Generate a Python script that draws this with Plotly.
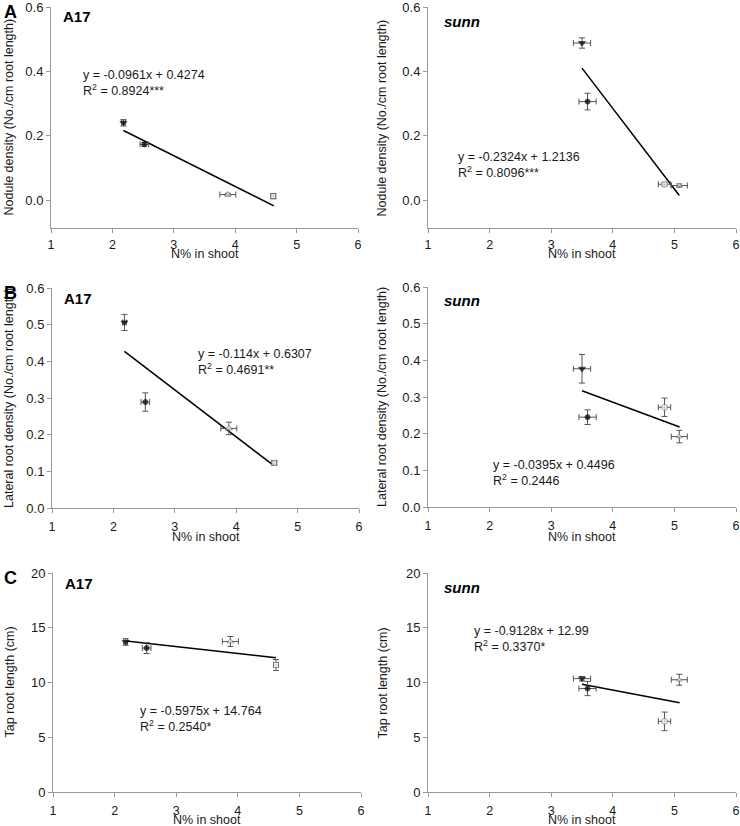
import plotly.graph_objects as go

W, H = 740, 826

# ---- data ----
n_a17 = [2.18, 2.52, 3.88, 4.62]
n_a17_err = [0.03, 0.07, 0.13, 0.04]
n_sunn = [3.50, 3.59, 4.84, 5.08]
n_sunn_err = [0.14, 0.14, 0.10, 0.13]

nodule_a17 = [0.240, 0.173, 0.017, 0.012]
nodule_a17_err = [0.010, 0.006, 0.004, 0.008]
nodule_sunn = [0.488, 0.306, 0.049, 0.045]
nodule_sunn_err = [0.016, 0.026, 0.005, 0.005]

lateral_a17 = [0.506, 0.289, 0.217, 0.123]
lateral_a17_err = [0.022, 0.025, 0.017, 0.005]
lateral_sunn = [0.377, 0.245, 0.272, 0.192]
lateral_sunn_err = [0.039, 0.020, 0.025, 0.017]

tap_a17 = [13.70, 13.15, 13.75, 11.60]
tap_a17_err = [0.30, 0.50, 0.45, 0.50]
tap_sunn = [10.35, 9.45, 6.45, 10.25]
tap_sunn_err = [0.20, 0.65, 0.85, 0.50]

# trend line end points (x, y)
trend_nod_a17 = ([2.18, 4.63], [0.216, -0.018])
trend_nod_sunn = ([3.50, 5.08], [0.410, 0.014])
trend_lat_a17 = ([2.18, 4.61], [0.427, 0.116])
trend_lat_sunn = ([3.50, 5.085], [0.317, 0.218])
trend_tap_a17 = ([2.19, 4.62], [13.78, 12.26])
trend_tap_sunn = ([3.50, 5.085], [9.83, 8.16])

eq_texts = [
    ("y = -0.0961x + 0.4274", "R<sup>2</sup> = 0.8924***"),
    ("y = -0.2324x + 1.2136", "R<sup>2</sup> = 0.8096***"),
    ("y = -0.114x + 0.6307", "R<sup>2</sup> = 0.4691**"),
    ("y = -0.0395x + 0.4496", "R<sup>2</sup> = 0.2446"),
    ("y = -0.5975x + 14.764", "R<sup>2</sup> = 0.2540*"),
    ("y = -0.9128x + 12.99", "R<sup>2</sup> = 0.3370*"),
]

x_ticks = [1, 2, 3, 4, 5, 6]
y_titles = ["Nodule density (No./cm root length)",
            "Lateral root density (No./cm root length)",
            "Tap root length (cm)"]
x_title = "N% in shoot"

FONT = "Liberation Sans, Arial, sans-serif"
AX_COL = "#9a9a9a"
ERR_COL = "#555555"

sym_a17 = ["triangle-down", "circle", "triangle-up", "square"]
sym_sunn = ["triangle-down", "circle", "circle", "triangle-up"]
fill = ["black", "black", "white", "white"]
edge = ["black", "black", "#777777", "#777777"]
msize = [6, 5, 6, 5]

# panel pixel boxes: (x_left, x_right, y_top, y_bottom)
boxes = [
    (51, 358, 7, 228), (428, 736, 7, 228),
    (52, 359, 288, 508), (428, 736, 287, 507),
    (53, 361, 573, 792), (428, 736, 573, 792),
]
yranges = [[-0.087, 0.6], [-0.087, 0.6], [0, 0.6], [0, 0.6], [0, 20], [0, 20]]
ytickvals = [[0, 0.2, 0.4, 0.6]] * 2 + [[0, 0.1, 0.2, 0.3, 0.4, 0.5, 0.6]] * 2 + [[0, 5, 10, 15, 20]] * 2
ytickfmt = [".1f"] * 4 + ["d"] * 2
xlab_standoff = [1, 1, 3, 3, 3, 3]
xtitle_y = [254, 254, 537, 537, 820, 820]

panels = [
    (n_a17, n_a17_err, nodule_a17, nodule_a17_err, sym_a17, trend_nod_a17),
    (n_sunn, n_sunn_err, nodule_sunn, nodule_sunn_err, sym_sunn, trend_nod_sunn),
    (n_a17, n_a17_err, lateral_a17, lateral_a17_err, sym_a17, trend_lat_a17),
    (n_sunn, n_sunn_err, lateral_sunn, lateral_sunn_err, sym_sunn, trend_lat_sunn),
    (n_a17, n_a17_err, tap_a17, tap_a17_err, sym_a17, trend_tap_a17),
    (n_sunn, n_sunn_err, tap_sunn, tap_sunn_err, sym_sunn, trend_tap_sunn),
]

# equation text anchor (left, first-line center y) in pixels
eq_pos = [(81, 73), (456, 155), (196, 352), (491, 463), (138, 709), (472, 629)]

fig = go.Figure()
layout = dict(
    template="none",
    width=W, height=H, margin=dict(l=0, r=0, t=0, b=0, autoexpand=False),
    paper_bgcolor="white", plot_bgcolor="white", showlegend=False,
    font=dict(family=FONT, size=13, color="#1a1a1a"),
)
annotations = []

def px(xp):
    return xp / W

def py(yp):
    return 1 - yp / H

for i, (xs, xe, ys, ye, syms, trend) in enumerate(panels):
    k = "" if i == 0 else str(i + 1)
    xa, ya = "x" + k, "y" + k
    xl, xr, yt, yb = boxes[i]
    fig.add_trace(go.Scatter(
        x=trend[0], y=trend[1], mode="lines", xaxis=xa, yaxis=ya,
        line=dict(color="black", width=1.5), hoverinfo="skip"))
    fig.add_trace(go.Scatter(
        x=xs, y=ys, mode="markers", xaxis=xa, yaxis=ya,
        error_x=dict(type="data", array=xe, color=ERR_COL, thickness=1, width=3),
        error_y=dict(type="data", array=ye, color=ERR_COL, thickness=1, width=3),
        marker=dict(symbol=syms, size=msize, color=fill,
                    line=dict(color=edge, width=1))))
    layout["xaxis" + k] = dict(
        domain=[px(xl), px(xr)], anchor=ya, range=[1, 6], tickvals=x_ticks,
        showline=True, linecolor=AX_COL, linewidth=1, ticks="outside",
        ticklen=4, tickcolor=AX_COL, showgrid=False, zeroline=False,
        automargin=False, ticklabeloverflow="allow",
        ticklabelstandoff=xlab_standoff[i],
        tickfont=dict(size=12.5, color="#1a1a1a"), fixedrange=True)
    layout["yaxis" + k] = dict(
        domain=[py(yb), py(yt)], anchor=xa, range=yranges[i],
        tickvals=ytickvals[i], tickformat=ytickfmt[i],
        showline=True, linecolor=AX_COL, linewidth=1, ticks="outside",
        ticklen=4, tickcolor=AX_COL, showgrid=False, zeroline=False,
        automargin=False, ticklabeloverflow="allow",
        tickfont=dict(size=13, color="#1a1a1a"), fixedrange=True)
    # x title
    annotations.append(dict(
        x=px((xl + xr) / 2), y=py(xtitle_y[i]), xref="paper", yref="paper",
        text=x_title, showarrow=False, font=dict(size=12.5),
        xanchor="center", yanchor="middle"))
    # y title
    ytx = 9 if i % 2 == 0 else 382
    annotations.append(dict(
        x=px(ytx), y=py((yt + yb) / 2 + 0), xref="paper", yref="paper",
        text=y_titles[i // 2], showarrow=False, textangle=-90,
        font=dict(size=12.5), xanchor="center", yanchor="middle"))
    # equation
    ex, ey = eq_pos[i]
    annotations.append(dict(
        x=px(ex), y=py(ey - 7), xref="paper", yref="paper",
        text=eq_texts[i][0] + "<br>" + eq_texts[i][1], showarrow=False,
        align="left", xanchor="left", yanchor="top", font=dict(size=12.5)))
    # genotype label
    if i % 2 == 0:
        annotations.append(dict(
            x=px(xl + 10), y=py(yt + 10), xref="paper", yref="paper",
            text="<b>A17</b>", showarrow=False, xanchor="left",
            yanchor="middle", font=dict(size=15, color="black")))
    else:
        annotations.append(dict(
            x=px(xl + 14), y=py(yt + 14), xref="paper", yref="paper",
            text="<b><i>sunn</i></b>", showarrow=False, xanchor="left",
            yanchor="middle", font=dict(size=15, color="black")))

# panel letters
for letter, ly in [("A", 12), ("B", 293), ("C", 578)]:
    annotations.append(dict(
        x=px(2), y=py(ly), xref="paper", yref="paper", text="<b>" + letter + "</b>",
        showarrow=False, xanchor="left", yanchor="middle",
        font=dict(size=18, color="black")))

layout["annotations"] = annotations
fig.update_layout(**layout)
fig.write_html(
    "out.html",
    config={"displayModeBar": False},
    post_script="document.body.style.margin='0';document.body.style.overflow='hidden';",
)
